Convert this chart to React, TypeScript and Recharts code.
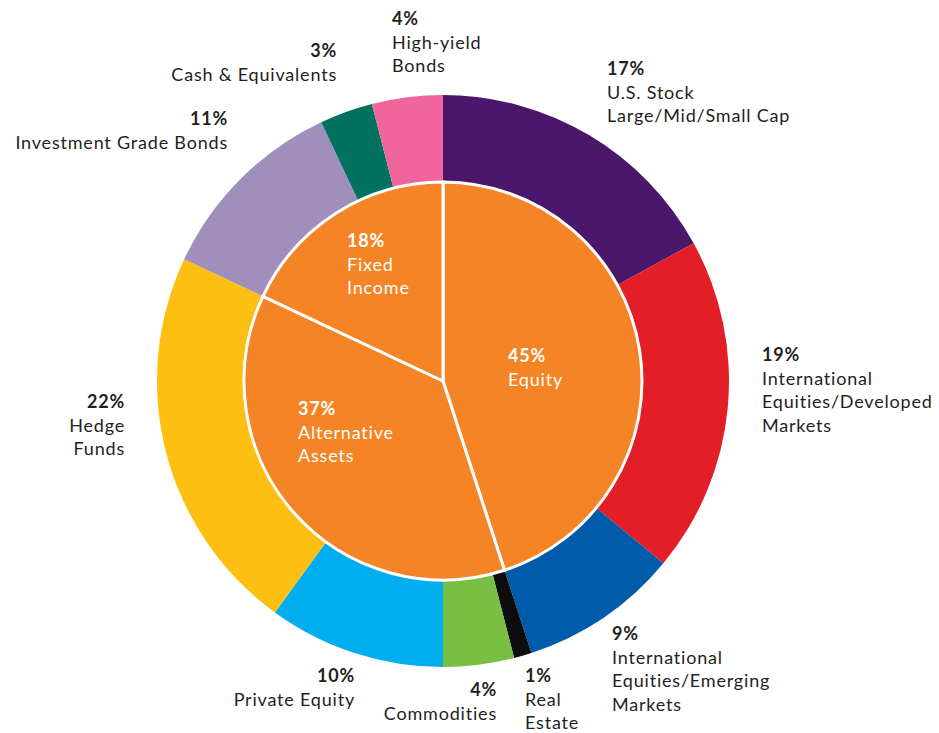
import React from 'react';
import { PieChart, Pie, Cell } from 'recharts';

// outer ring, clockwise from 12 o'clock
const subNames = [
  ['U.S. Stock', 'Large/Mid/Small Cap'],
  ['International', 'Equities/Developed', 'Markets'],
  ['International', 'Equities/Emerging', 'Markets'],
  ['Real', 'Estate'],
  ['Commodities'],
  ['Private Equity'],
  ['Hedge', 'Funds'],
  ['Investment Grade Bonds'],
  ['Cash & Equivalents'],
  ['High-yield', 'Bonds'],
];
const subValues = [17, 19, 9, 1, 4, 10, 22, 11, 3, 4];
const subColors = ['#4a176a', '#e31e26', '#005bab', '#0d0d0d', '#78bf44', '#00aeef', '#fdbf11', '#a08fba', '#00725f', '#f0659b'];

const groupNames = [['Equity'], ['Alternative', 'Assets'], ['Fixed', 'Income']];
const groupValues = [45, 37, 18];
const groupColor = '#f58426';

// label placement relative to the pie centre
const subLabelPos: [number, number, 'start' | 'end'][] = [
  [164, -313, 'start'],
  [319, -27, 'start'],
  [169, 252, 'start'],
  [82, 294, 'start'],
  [54, 308, 'end'],
  [-88, 294, 'end'],
  [-318, 20, 'end'],
  [-215, -263, 'end'],
  [-106, -331, 'end'],
  [-51, -363, 'start'],
];
const groupLabelPos: [number, number][] = [
  [65, -26],
  [-145, 27],
  [-96, -141],
];

const subData = subNames.map((n, i) => ({ name: n.join(' '), value: subValues[i] }));
const groupData = groupNames.map((n, i) => ({ name: n.join(' '), value: groupValues[i] }));

const FONT = 'Lato, "Open Sans", sans-serif';
const CX = 443;
const CY = 381;
const LINE = 23.5;

const renderLabel = (lines: string[], value: number, x: number, y: number, anchor: 'start' | 'end', fill: string) => (
  <text x={x} y={y} textAnchor={anchor} fill={fill} fontFamily={FONT} fontSize={18} letterSpacing={0.8} dominantBaseline="central">
    <tspan x={x} dy={0} fontWeight={700}>{value}%</tspan>
    {lines.map((l, k) => (
      <tspan key={k} x={x} dy={LINE}>{l}</tspan>
    ))}
  </text>
);

const subLabel = (props: any) => {
  const i = props.index;
  const [ox, oy, anchor] = subLabelPos[i];
  return renderLabel(subNames[i], subValues[i], props.cx + ox, props.cy + oy, anchor, '#231f20');
};

const groupLabel = (props: any) => {
  const i = props.index;
  const [ox, oy] = groupLabelPos[i];
  return renderLabel(groupNames[i], groupValues[i], props.cx + ox, props.cy + oy, 'start', '#ffffff');
};

export default function App() {
  return (
    <div style={{ position: 'absolute', left: 0, top: 0, background: '#fff' }}>
      <PieChart width={939} height={733} margin={{ top: 0, right: 0, bottom: 0, left: 0 }}>
        <Pie
          data={subData}
          dataKey="value"
          cx={CX}
          cy={CY}
          innerRadius={198}
          outerRadius={286}
          startAngle={90}
          endAngle={-270}
          stroke="none"
          label={subLabel}
          labelLine={false}
          isAnimationActive={false}
        >
          {subData.map((d, i) => (
            <Cell key={d.name} fill={subColors[i]} />
          ))}
        </Pie>
        <Pie
          data={groupData}
          dataKey="value"
          cx={CX}
          cy={CY}
          innerRadius={0}
          outerRadius={199}
          startAngle={90}
          endAngle={-270}
          stroke="#ffffff"
          strokeWidth={3}
          label={groupLabel}
          labelLine={false}
          isAnimationActive={false}
        >
          {groupData.map((d) => (
            <Cell key={d.name} fill={groupColor} />
          ))}
        </Pie>
      </PieChart>
    </div>
  );
}
